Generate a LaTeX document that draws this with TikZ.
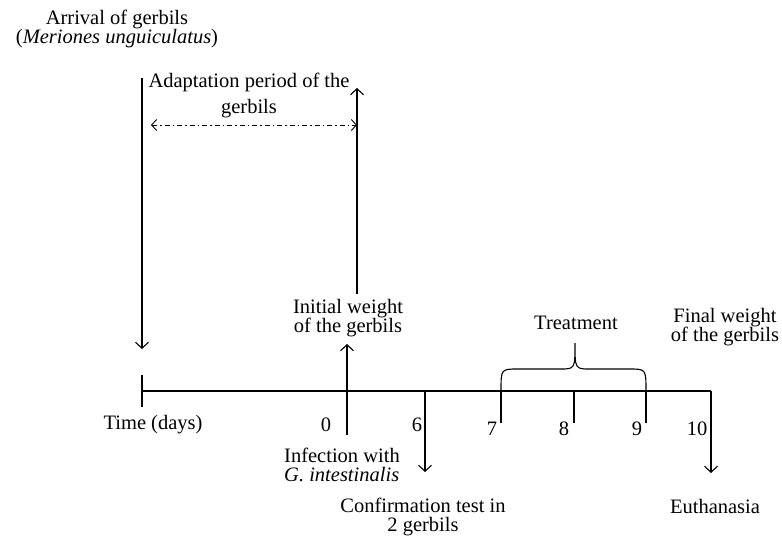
\documentclass[tikz,border=0pt]{standalone}
\usepackage{fontspec}
\setmainfont{Liberation Serif}
\usetikzlibrary{arrows.meta}
\begin{document}
\begin{tikzpicture}[x=1pt,y=-1pt,
  lbl/.style={inner sep=0pt,align=center,font=\fontsize{20.5}{19.5}\selectfont},
  ln/.style={line width=1.1pt},
  arr/.style={ln,-{Straight Barb[length=6pt,width=13pt,line width=1.1pt]}},
  tick/.style={line width=2pt}]
\useasboundingbox (0,0) rectangle (782,541);
% timeline
\coordinate (t0) at (142,391);
\coordinate (t10) at (711,391);
\draw[ln] (t0) -- (t10);
\coordinate (s1) at (142,375); \coordinate (s2) at (142,407);
\draw[line width=2.2pt] (s1) -- (s2);
% texts
\node[lbl] (arrival) at (117,29) {Arrival of gerbils\\(\textit{Meriones unguiculatus})};
\node[lbl,font=\fontsize{20.5}{26}\selectfont] (adapt) at (249,95) {Adaptation period of the\\gerbils};
\node[lbl] (initw) at (348,318) {Initial weight\\of the gerbils};
\node[lbl] (time) at (153,425) {Time (days)};
\node[lbl] (d0) at (326,425) {0};
\node[lbl] (d6) at (417,425) {6};
\node[lbl] (d7) at (492,429) {7};
\node[lbl] (d8) at (564,429) {8};
\node[lbl] (d9) at (637,429) {9};
\node[lbl] (d10) at (697,429) {10};
\node[lbl,align=left,anchor=west] (infect) at (284,465) {Infection with\\\textit{G. intestinalis}};
\node[lbl] (confirm) at (423,517) {Confirmation test in\\2 gerbils};
\node[lbl] (treat) at (576,323) {Treatment};
\node[lbl] (finalw) at (725,327) {Final weight\\of the gerbils};
\node[lbl] (euth) at (715,506) {Euthanasia};
% arrival arrow
\coordinate (a1) at (142,78); \coordinate (a2) at (142,349);
\draw[arr] (a1) -- (a2);
% adaptation arrow
\coordinate (b1) at (357,294); \coordinate (b2) at (357,88);
\draw[arr] (b1) -- (b2);
% dash-dot double arrow
\coordinate (c1) at (151,125); \coordinate (c2) at (357,125);
\draw[line width=0.9pt,dash pattern=on 5pt off 3pt on 1.5pt off 3pt,
  {Straight Barb[length=5pt,width=11pt,line width=0.9pt]}-{Straight Barb[length=5pt,width=11pt,line width=0.9pt]}] (c1) -- (c2);
% initial weight arrow
\coordinate (i1) at (347,435); \coordinate (i2) at (347,344);
\draw[arr] (i1) -- (i2);
% day 6 arrow
\coordinate (e1) at (425,391); \coordinate (e2) at (425,472);
\draw[arr] (e1) -- (e2);
% day 10 arrow
\coordinate (f2) at (711,473);
\draw[arr] (t10) -- (f2);
% ticks
\coordinate (k7a) at (501,391); \coordinate (k7b) at (501,423);
\coordinate (k8a) at (574,391); \coordinate (k8b) at (574,423);
\coordinate (k9a) at (646,391); \coordinate (k9b) at (646,423);
\draw[tick] (k7a) -- (k7b);
\draw[tick] (k8a) -- (k8b);
\draw[tick] (k9a) -- (k9b);
% brace
\coordinate (bt) at (575,343);
\draw[ln] (k7a) .. controls (501,369) .. (518,369) -- (560,369)
  .. controls (575,369) .. (bt)
  .. controls (575,369) .. (590,369) -- (629,369)
  .. controls (646,369) .. (k9a);
\end{tikzpicture}
\end{document}
